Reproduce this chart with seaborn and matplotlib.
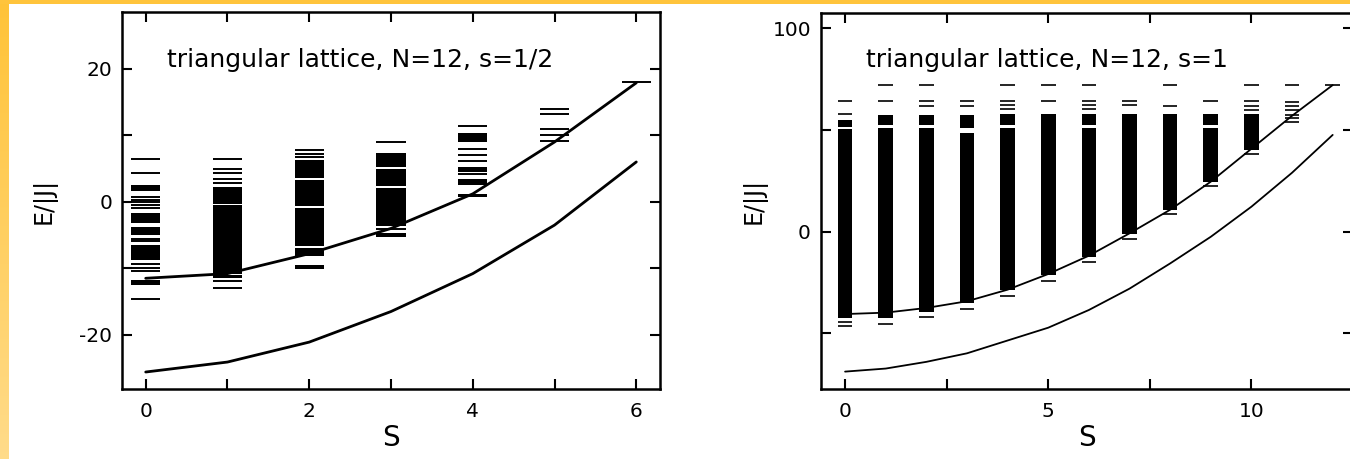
import numpy as np
import matplotlib
matplotlib.use("Agg")
import matplotlib.pyplot as plt
from matplotlib.patches import Rectangle
import seaborn as sns

# ================= DATA =================
# --- panel 1: triangular lattice, N=12, s=1/2 ---
S_half = [0, 1, 2, 3, 4, 5, 6]
upper_half = [-11.5, -10.8, -7.8, -4.0, 1.2, 9.0, 17.9]
lower_half = [-25.6, -24.1, -21.1, -16.5, -10.8, -3.5, 6.0]
# isolated levels for each S
levels_half = [
    [6.4, 4.4, 0.75, 0.35, -0.1, -0.5, -1.0, -5.55, -5.85, -9.4, -9.9, -10.4, -14.6],
    [6.4, 4.9, 4.3, 3.5, 2.85, -11.9, -12.9],
    [7.8, 7.2, 6.7],
    [9.0, -4.1],
    [11.4, 8.0, 7.0, 6.2, 4.2],
    [14.0, 13.2, 11.0, 10.1, 9.1],
    [18.0],
]
# dense blocks of levels (low, high) for each S
bands_half = [
    [(1.65, 2.5), (-3.15, -1.75), (-5.0, -3.75), (-8.75, -6.5), (-12.5, -11.7)],
    [(-11.5, -11.05), (-10.8, -0.5), (-0.3, 2.25)],
    [(3.55, 6.3), (-0.6, 3.25), (-6.65, -0.9), (-8.1, -6.95), (-10.1, -9.5)],
    [(5.3, 7.4), (2.45, 4.95), (-3.6, 2.1), (-5.35, -4.75)],
    [(9.0, 10.4), (4.45, 5.3), (2.55, 3.5), (0.75, 1.25)],
    [],
    [],
]
title_half = "triangular lattice, N=12, s=1/2"

# --- panel 2: triangular lattice, N=12, s=1 ---
S_one = [0, 1, 2, 3, 4, 5, 6, 7, 8, 9, 10, 11, 12]
upper_one = [-40.5, -39.8, -37.5, -34.2, -28.5, -20.8, -11.8, -0.8, 10.8, 24.6, 40.8, 57.0, 72.1]
lower_one = [-68.8, -67.3, -64.0, -59.8, -53.5, -47.2, -38.5, -28.0, -15.6, -2.5, 12.3, 29.0, 47.6]
levels_one = [
    [64.4, 57.9, -44.5, -46.5],
    [72.1, 64.4, -45.2],
    [72.1, 64.4, 61.8, -42.1],
    [64.4, 61.8, -37.9],
    [72.1, 64.4, 62.3, 60.2, -31.6],
    [72.1, 64.4, -24.1],
    [72.1, 64.4, 62.3, 60.2, -14.8],
    [64.4, 62.3, -3.8],
    [72.1, 61.8, 8.7],
    [64.4, 22.5],
    [72.1, 64.4, 61.8, 59.8, 38.0],
    [72.1, 63.9, 61.8, 59.8, 57.4, 56.0, 54.1],
    [72.1],
]
bands_one = [
    [(51.5, 55.0), (-42.5, 50.5)],
    [(52.5, 57.5), (-42.5, 51.0)],
    [(52.5, 57.5), (-39.3, 51.0)],
    [(51.0, 57.5), (-35.2, 48.7)],
    [(52.5, 57.9), (-28.7, 50.8)],
    [(-21.3, 57.9)],
    [(52.5, 57.9), (-12.6, 50.8)],
    [(-1.1, 57.9)],
    [(10.7, 57.9)],
    [(52.5, 57.9), (24.6, 50.8)],
    [(40.2, 57.9)],
    [],
    [],
]
title_one = "triangular lattice, N=12, s=1"

# ================= STYLE =================
sns.set_style("ticks")
plt.rcParams["font.family"] = ["DejaVu Sans"]
plt.rcParams["axes.unicode_minus"] = False
for key in ["text.color", "axes.labelcolor", "xtick.color", "ytick.color", "axes.edgecolor"]:
    plt.rcParams[key] = "black"

W, H = 1350, 459
fig = plt.figure(figsize=(W / 100, H / 100), dpi=100, facecolor="white")

# background decoration (yellow frame strips)
bg = fig.add_axes([0, 0, 1, 1], zorder=-10)
bg.set_xlim(0, W)
bg.set_ylim(H, 0)
bg.axis("off")
top_c = np.array([1.0, 0.765, 0.22])
bot_c = np.array([1.0, 0.86, 0.54])
t = np.linspace(0, 1, 256)[:, None, None]
grad = top_c[None, None, :] * (1 - t) + bot_c[None, None, :] * t
bg.imshow(grad, extent=[0, 8.5, H, 0], aspect="auto", origin="upper")
bg.add_patch(Rectangle((0, 0), W, 4.2, color="#FFC43C", lw=0))

half_w = 0.18


def draw_panel(ax, S, upper, lower, levels, bands, lw_curve, lw_level):
    for s, lev, bnd in zip(S, levels, bands):
        if lev:
            ax.hlines(lev, s - half_w, s + half_w, color="black", lw=lw_level)
        for lo, hi in bnd:
            ax.bar(s, hi - lo, bottom=lo, width=2 * half_w, color="black", lw=0)
    sns.lineplot(x=S, y=upper, ax=ax, color="black", lw=lw_curve)
    sns.lineplot(x=S, y=lower, ax=ax, color="black", lw=lw_curve)


def style_axes(ax):
    for sp in ax.spines.values():
        sp.set_linewidth(1.8)
        sp.set_visible(True)
        sp.set_color("black")
    ax.tick_params(direction="in", top=True, right=True, length=7, width=1.5,
                   labelsize=14.5, colors="black")
    ax.tick_params(axis="x", pad=9)
    ax.tick_params(axis="y", pad=7)
    ax.set_facecolor("white")


# ---- left panel ----
ax1 = fig.add_axes([122 / W, (H - 389.3) / H, 538 / W, 377.6 / H])
draw_panel(ax1, S_half, upper_half, lower_half, levels_half, bands_half, 2.0, 1.4)
ax1.set_xlim(-0.29, 6.29)
ax1.set_ylim(-28.2, 28.6)
ax1.set_xticks([0, 1, 2, 3, 4, 5, 6])
ax1.set_xticklabels(["0", "", "2", "", "4", "", "6"])
ax1.set_yticks([-20, -10, 0, 10, 20])
ax1.set_yticklabels(["-20", "", "0", "", "20"])
style_axes(ax1)
ax1.set_xlabel("S", fontsize=20, labelpad=2)
ax1.set_ylabel("E/|J|", fontsize=17, labelpad=16)
ax1.text(0.26, 20.3, title_half, fontsize=18, ha="left", va="baseline", color="black")

# ---- right panel ----
ax2 = fig.add_axes([820.7 / W, (H - 389.3) / H, 532.3 / W, 376.6 / H])
draw_panel(ax2, S_one, upper_one, lower_one, levels_one, bands_one, 1.3, 1.2)
ax2.set_xlim(-0.6, 12.5)
ax2.set_ylim(-77.5, 107.7)
ax2.set_xticks([0, 2.5, 5, 7.5, 10, 12.5])
ax2.set_xticklabels(["0", "", "5", "", "10", ""])
ax2.set_yticks([-50, 0, 50, 100])
ax2.set_yticklabels(["", "0", "", "100"])
style_axes(ax2)
ax2.set_xlabel("S", fontsize=20, labelpad=2)
ax2.set_ylabel("E/|J|", fontsize=17, labelpad=4)
ax2.text(0.52, 81.1, title_one, fontsize=18, ha="left", va="baseline", color="black")

fig.savefig("out.png", dpi=100, facecolor="white")
